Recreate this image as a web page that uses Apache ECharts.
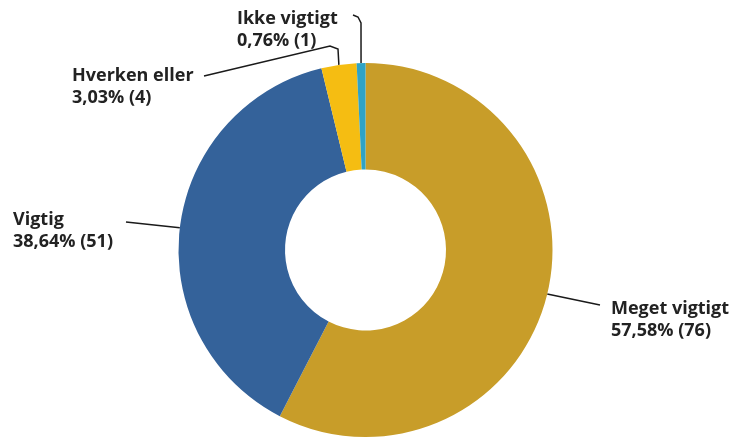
<!DOCTYPE html>
<html>
<head>
<meta charset="utf-8">
<script src="https://cdn.jsdelivr.net/npm/echarts@6/dist/echarts.min.js"></script>
<style>
html,body{margin:0;padding:0;background:#fff;}
#chart{width:739px;height:441px;}
</style>
</head>
<body>
<div id="chart"></div>
<script>
const categories = ['Meget vigtigt', 'Vigtig', 'Hverken eller', 'Ikke vigtigt'];
const counts = [76, 51, 4, 1];
const colors = ['#C89D29', '#34629A', '#F5BD12', '#2FA3C6'];

const CX = 365.5, CY = 250, R0 = 80.5, R = 187;
const total = counts.reduce((a, b) => a + b, 0);

function startPoint(i) {
  let cum = 0;
  for (let k = 0; k < i; k++) cum += counts[k];
  const mid = (cum + counts[i] / 2) / total;
  const ang = (90 - mid * 360) * Math.PI / 180;
  return [CX + R * Math.cos(ang), CY - R * Math.sin(ang)];
}

// label placements (x, y of middle-left) and extra leader-line points
const labelPos = [
  { x: 611, y: 320, pts: [[600, 305]] },
  { x: 13, y: 231, pts: [[126, 222]] },
  { x: 72, y: 87, pts: [[338, 49], [330, 46], [204, 76]] },
  { x: 237, y: 30, pts: [[361, 23], [358, 17], [353, 15]] }
];

const chart = echarts.init(document.getElementById('chart'));
chart.setOption({
  animation: false,
  color: colors,
  series: [{
    type: 'pie',
    center: [CX, CY],
    radius: [R0, R],
    startAngle: 90,
    clockwise: true,
    avoidLabelOverlap: false,
    itemStyle: { borderWidth: 0 },
    emphasis: { disabled: true },
    data: categories.map((c, i) => ({ name: c, value: counts[i] })),
    label: {
      show: true,
      position: 'outside',
      formatter: p => p.name + '\n' + (p.value / total * 100).toFixed(2).replace('.', ',') + '% (' + p.value + ')',
      fontFamily: 'Open Sans',
      fontWeight: 'bold',
      fontSize: 18,
      lineHeight: 22,
      color: '#222222',
      align: 'left'
    },
    labelLine: {
      show: true,
      lineStyle: { color: '#1a1a1a', width: 1.5 }
    },
    labelLayout: function (params) {
      const i = params.dataIndex;
      const lp = labelPos[i];
      return {
        x: lp.x,
        y: lp.y,
        align: 'left',
        verticalAlign: 'middle',
        labelLinePoints: [startPoint(i)].concat(lp.pts)
      };
    }
  }]
});
</script>
</body>
</html>
